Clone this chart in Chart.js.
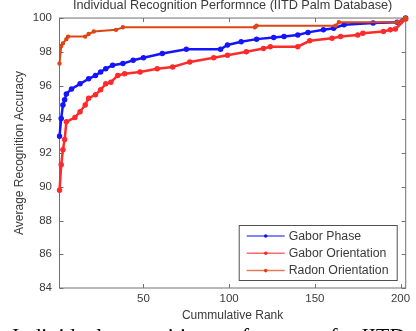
<!DOCTYPE html>
<html>
<head>
<meta charset="utf-8">
<script src="https://cdn.jsdelivr.net/npm/chart.js@4"></script>
<style>
    html, body { margin: 0; padding: 0; background: #fff; overflow: hidden; }
    #wrap { position: relative; width: 416px; height: 331px; }
    #caption {
        position: absolute; left: 12px; top: 325px;
        font: 22px 'Liberation Serif', 'Times New Roman', serif;
        line-height: 22px; white-space: nowrap; color: #000;
    }
</style>
</head>
<body>
<div id="wrap">
    <canvas id="rank-chart"></canvas>
    <div id="caption">Individual recognition performance for IITD palm database</div>
</div>
<script>
// Cumulative rank (x) and accuracy (%) at their step points
const phaseRanks = [1, 2, 3, 4, 5, 8, 13, 18, 22, 25, 28, 32, 38, 44, 50, 61, 75, 95, 99, 107, 116, 126, 132, 140, 146, 155, 161, 167, 184, 198, 203];
const phaseAcc = [93.0, 94.05, 94.85, 95.15, 95.5, 95.8, 96.1, 96.4, 96.6, 96.8, 97.0, 97.2, 97.3, 97.5, 97.65, 97.9, 98.15, 98.15, 98.4, 98.6, 98.75, 98.85, 98.9, 99.0, 99.15, 99.3, 99.4, 99.6, 99.7, 99.75, 100];

const orientRanks = [1, 2, 3, 4, 5, 10, 13, 16, 18, 22, 25, 28, 31, 35, 39, 48, 58, 67, 77, 91, 99, 110, 120, 124, 140, 147, 160, 165, 175, 178, 190, 194, 197, 203];
const orientAcc = [89.8, 91.3, 92.2, 92.8, 93.85, 94.1, 94.45, 94.85, 95.25, 95.45, 95.75, 96.1, 96.2, 96.6, 96.7, 96.8, 97.0, 97.1, 97.4, 97.65, 97.8, 98.0, 98.2, 98.3, 98.3, 98.65, 98.8, 98.9, 99.0, 99.1, 99.2, 99.3, 99.35, 99.95];

const radonRanks = [1, 2, 3, 5, 6, 16, 18, 21, 34, 38, 115, 116, 162, 164, 198, 203];
const radonAcc = [97.3, 98.35, 98.5, 98.75, 98.9, 98.9, 99.05, 99.2, 99.3, 99.45, 99.45, 99.55, 99.55, 99.75, 99.75, 100];

const seriesNames = ['Gabor Phase', 'Gabor Orientation', 'Radon Orientation'];
const xTicks = [50, 100, 150, 200];
const yTicks = [84, 86, 88, 90, 92, 94, 96, 98, 100];

const colors = ['#1414ff', '#ff2a2a', '#dc4614'];
const toPoints = (xs, ys) => xs.map((r, i) => ({ x: r, y: ys[i] }));

Chart.defaults.font.family = "'Liberation Sans', Arial, sans-serif";
Chart.defaults.font.size = 11.5;
Chart.defaults.color = '#3a3a3a';

// Matlab-like box with inward tick marks
const framePlugin = {
    id: 'frame',
    beforeDatasetsDraw(chart) {
        const { ctx, chartArea: a, scales: { x, y } } = chart;
        ctx.save();
        ctx.strokeStyle = '#707070';
        ctx.lineWidth = 1;
        ctx.strokeRect(a.left, a.top, a.right - a.left, a.bottom - a.top);
        ctx.beginPath();
        xTicks.forEach(v => {
            const px = Math.round(x.getPixelForValue(v)) + 0.5;
            ctx.moveTo(px, a.bottom); ctx.lineTo(px, a.bottom - 4);
            ctx.moveTo(px, a.top); ctx.lineTo(px, a.top + 4);
        });
        yTicks.forEach(v => {
            const py = Math.round(y.getPixelForValue(v)) + 0.5;
            ctx.moveTo(a.left, py); ctx.lineTo(a.left + 4, py);
            ctx.moveTo(a.right, py); ctx.lineTo(a.right - 4, py);
        });
        ctx.stroke();
        ctx.restore();
    }
};

// Legend box in the lower right corner of the plot
const boxLegend = {
    id: 'boxLegend',
    afterDraw(chart) {
        const { ctx, chartArea: a } = chart;
        const w = 158, h = 55;
        const left = a.right - 9 - w, top = a.bottom - 8 - h;
        ctx.save();
        ctx.fillStyle = '#fff';
        ctx.fillRect(left, top, w, h);
        ctx.strokeStyle = '#505050';
        ctx.lineWidth = 1;
        ctx.strokeRect(left + 0.5, top + 0.5, w, h);
        ctx.font = "12.3px 'Liberation Sans', Arial, sans-serif";
        ctx.textBaseline = 'middle';
        seriesNames.forEach((name, i) => {
            const cy = top + 11 + i * 17.3;
            ctx.strokeStyle = colors[i];
            ctx.globalAlpha = 0.7;
            ctx.lineWidth = 1.5;
            ctx.beginPath();
            ctx.moveTo(left + 8, cy); ctx.lineTo(left + 46, cy);
            ctx.stroke();
            ctx.globalAlpha = 1;
            ctx.fillStyle = colors[i];
            ctx.beginPath();
            ctx.arc(left + 27, cy, 1.8, 0, Math.PI * 2);
            ctx.fill();
            ctx.fillStyle = '#3a3a3a';
            ctx.fillText(name, left + 50, cy + 0.5);
        });
        ctx.restore();
    }
};

const ctx = document.getElementById('rank-chart');
new Chart(ctx, {
    type: 'line',
    data: {
        datasets: [{
            label: seriesNames[0],
            data: toPoints(phaseRanks, phaseAcc),
            borderColor: colors[0],
            backgroundColor: colors[0],
            borderWidth: 2.5,
            pointRadius: 1.5,
            order: 3
        }, {
            label: seriesNames[1],
            data: toPoints(orientRanks, orientAcc),
            borderColor: colors[1],
            backgroundColor: colors[1],
            borderWidth: 2.5,
            pointRadius: 1.5,
            order: 2
        }, {
            label: seriesNames[2],
            data: toPoints(radonRanks, radonAcc),
            borderColor: colors[2],
            backgroundColor: colors[2],
            borderWidth: 2,
            pointRadius: 1.2,
            order: 1
        }]
    },
    options: {
        responsive: true,
        maintainAspectRatio: false,
        animation: false,
        clip: 3,
        layout: { padding: { left: 0, right: 10.3, top: 0, bottom: 0 } },
        plugins: {
            legend: { display: false },
            tooltip: { enabled: false },
            title: {
                display: true,
                fullSize: false,
                text: 'Individual Recognition Performnce (IITD Palm Database)',
                font: { size: 12.7, weight: 'normal' },
                color: '#3a3a3a',
                padding: { top: -2.5, bottom: 5.3 }
            }
        },
        scales: {
            x: {
                type: 'linear',
                min: 1,
                max: 203,
                grid: { display: false, drawTicks: false },
                border: { display: false },
                ticks: { padding: 3.5, maxRotation: 0 },
                afterBuildTicks: scale => { scale.ticks = xTicks.map(v => ({ value: v })); },
                afterFit: scale => { scale.height = 43; },
                title: {
                    display: true,
                    text: 'Cummulative Rank',
                    font: { size: 12 },
                    padding: { top: 0, bottom: 7.8 }
                }
            },
            y: {
                min: 84,
                max: 100,
                grid: { display: false, drawTicks: false },
                border: { display: false },
                ticks: { stepSize: 2, padding: 7.5 },
                afterFit: scale => { scale.width = 59.5; },
                title: {
                    display: true,
                    text: 'Average Recognition Accuracy',
                    font: { size: 12 },
                    padding: { top: 12.8, bottom: 0 }
                }
            }
        }
    },
    plugins: [framePlugin, boxLegend]
});
</script>
</body>
</html>
